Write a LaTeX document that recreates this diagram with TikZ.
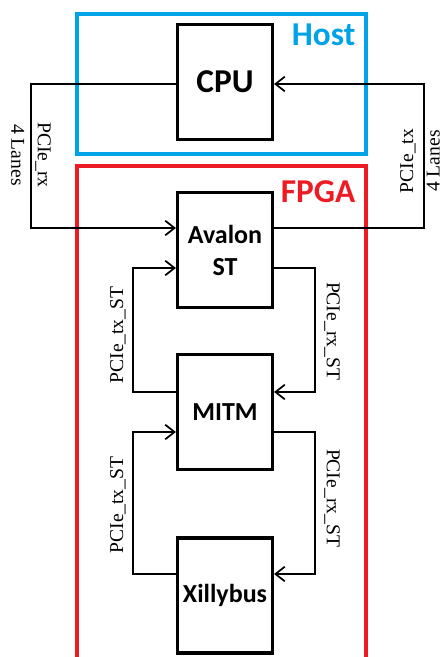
\documentclass[tikz,border=0pt]{standalone}
\usepackage{fontspec}
\setmainfont{Liberation Serif}
\newfontfamily\calibri{Carlito}
\usepackage{xcolor}
\usepackage{tikz}
\usetikzlibrary{arrows.meta, calc}
\definecolor{hostblue}{RGB}{0,162,232}
\definecolor{fpgared}{RGB}{237,28,36}

\begin{document}
\begin{tikzpicture}[x=0.75pt, y=0.75pt,
        block/.style={draw, line width=2.6pt, minimum width=71pt, minimum height=86pt,
                      align=center, font=\calibri\bfseries\fontsize{19.5}{24}\selectfont},
        link/.style={line width=1.3pt},
        lbl/.style={font=\fontsize{14.7}{20}\selectfont, align=center, inner sep=1pt},
        >={Straight Barb[length=7pt, width=11pt]}]
        \useasboundingbox (0,0) rectangle (443,-657);
        % Host and FPGA frames
        \draw[hostblue, line width=3pt] (77,-14) rectangle (366,-154);
        \begin{scope}
            \clip (0,0) rectangle (443,-657);
            \draw[fpgared, line width=3pt] (77,-166) rectangle (366,-700);
        \end{scope}
        \node[anchor=east, text=hostblue, font=\calibri\bfseries\fontsize{25}{30}\selectfont] (host) at (360,-35) {Host};
        \node[anchor=east, text=fpgared, font=\calibri\bfseries\fontsize{25}{30}\selectfont] (fpga) at (360,-192) {FPGA};
        % Blocks
        \node[block, font=\calibri\bfseries\fontsize{25}{30}\selectfont] (cpu) at (225,-82) {CPU};
        \node[block] (avalon) at (225,-250) {Avalon\\ST};
        \node[block] (mitm) at (225,-412) {MITM};
        \node[block] (xilly) at (225,-595.5) {Xillybus};
        % Labels
        \node[lbl, rotate=-90] (rxlbl) at (31,-155) {PCIe\_rx\\4 Lanes};
        \node[lbl, rotate=90] (txlbl) at (420,-161) {PCIe\_tx\\4 Lanes};
        \node[lbl, rotate=90] (txst1) at (118,-335) {PCIe\_tx\_ST};
        \node[lbl, rotate=-90] (rxst1) at (332,-331) {PCIe\_rx\_ST};
        \node[lbl, rotate=90] (txst2) at (118,-505) {PCIe\_tx\_ST};
        \node[lbl, rotate=-90] (rxst2) at (332,-498) {PCIe\_rx\_ST};
        % PCIe lanes
        \draw[link, ->] ($(cpu.west)+(0,-2)$) -| (rxlbl.center) |- ($(avalon.west)+(0,22)$);
        \draw[link, ->] ($(avalon.east)+(0,22)$) -| ($(txlbl.center)+(4,0)$) |- ($(cpu.east)+(0,-2)$);
        % Streaming links
        \draw[link, ->] ($(mitm.west)+(0,20)$) -- ++(-43,0) |- ($(avalon.west)+(0,-18)$);
        \draw[link, ->] ($(avalon.east)+(0,-18)$) -- ++(41,0) |- ($(mitm.east)+(0,20)$);
        \draw[link, ->] ($(xilly.west)+(0,21.5)$) -- ++(-43,0) |- ($(mitm.west)+(0,-20)$);
        \draw[link, ->] ($(mitm.east)+(0,-20)$) -- ++(41,0) |- ($(xilly.east)+(0,21.5)$);
\end{tikzpicture}
\end{document}
